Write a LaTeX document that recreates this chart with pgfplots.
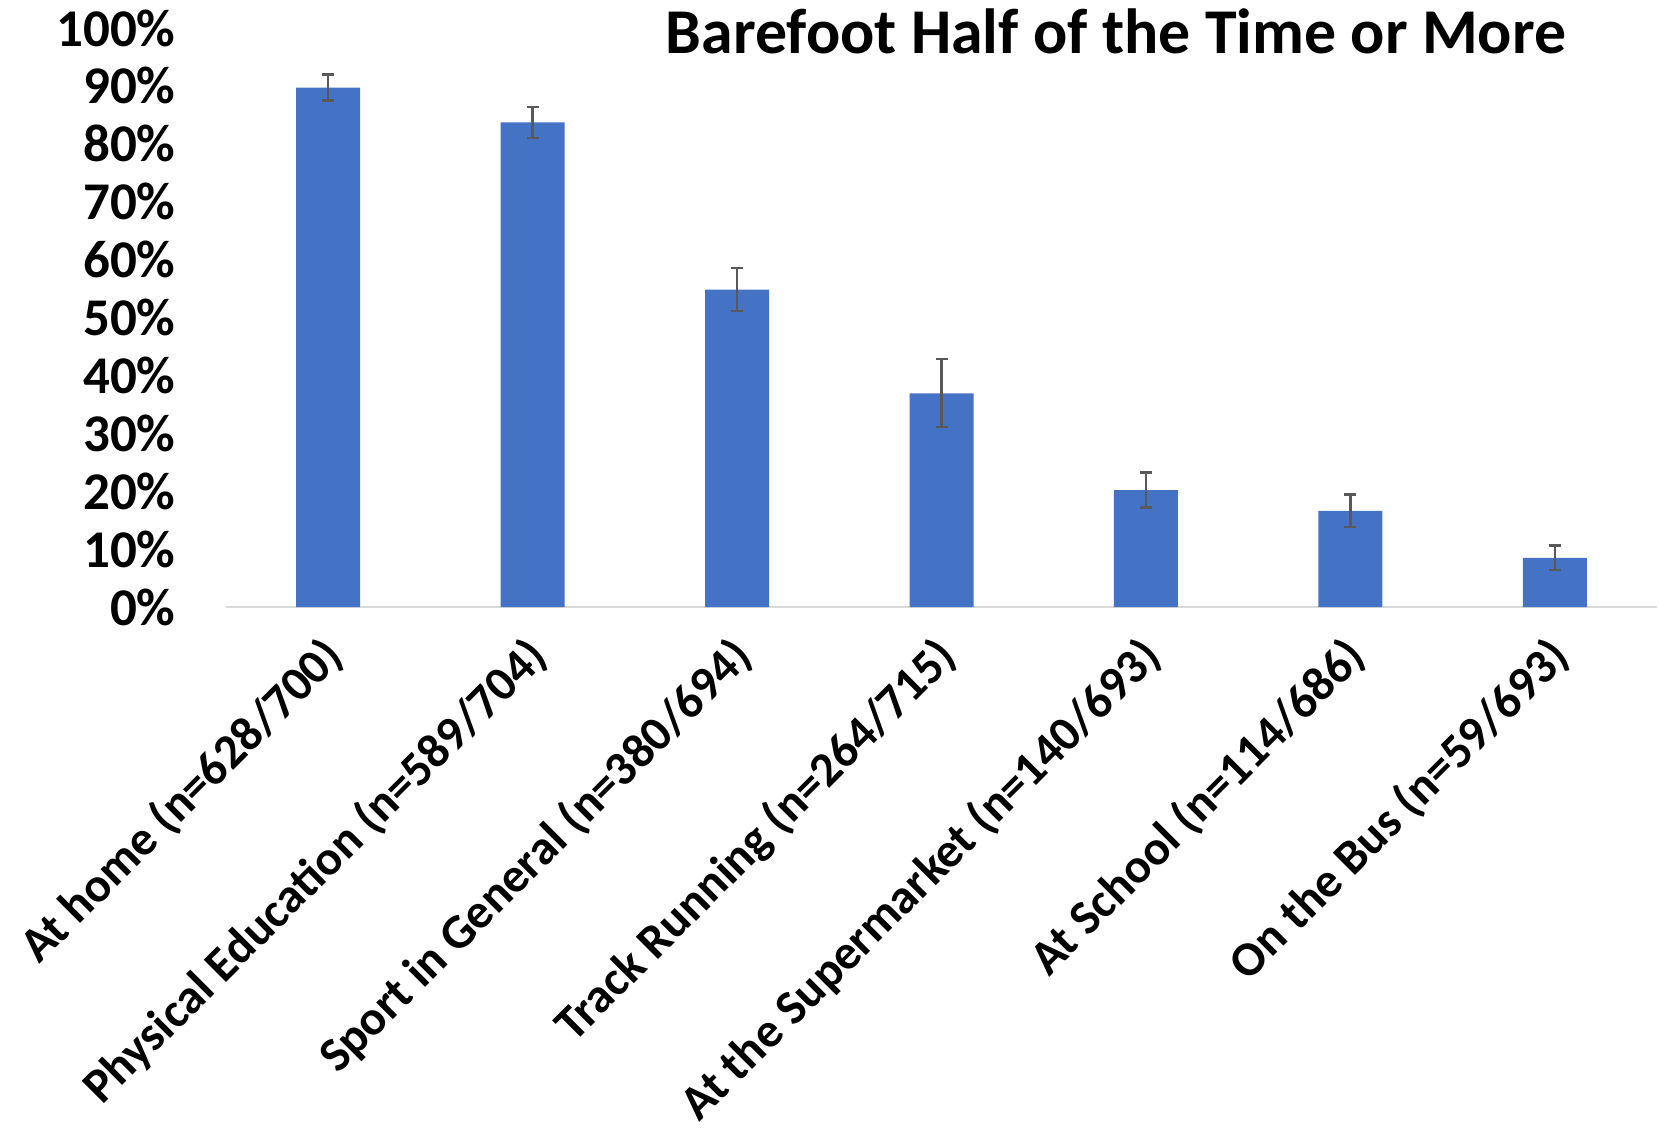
\documentclass[border=0pt]{standalone}
\usepackage{pgfplots}
\pgfplotsset{compat=1.18}
\usepackage{pgfplotstable}
\usepackage{fontspec}
\setmainfont{Carlito}
\definecolor{barblue}{HTML}{4472C4}
\definecolor{errgray}{HTML}{595959}
\definecolor{axgray}{HTML}{D9D9D9}

\pgfplotstableread{
x y ep em
0 89.7 2.3 2.2
1 83.7 2.7 2.7
2 54.8 3.7 3.7
3 36.9 5.9 5.8
4 20.2 3.0 3.0
5 16.6 2.8 2.8
6 8.5 2.1 2.1
}\datatable

\begin{document}
\begin{tikzpicture}
\path[use as bounding box] (0,0) rectangle (830pt,565.5pt);
\begin{axis}[
  at={(113pt,262pt)}, anchor=south west,
  scale only axis, width=715.5pt, height=289.5pt,
  xmin=-0.5, xmax=6.5, ymin=0, ymax=100,
  axis x line*=bottom, axis y line*=left,
  x axis line style={-, draw=axgray, line width=1pt},
  y axis line style={draw=none},
  major tick length=0pt,
  xtick={0,1,2,3,4,5,6},
  xticklabels={At home (n=628/700), Physical Education (n=589/704), Sport in General (n=380/694), Track Running (n=264/715), At the Supermarket (n=140/693), At School (n=114/686), On the Bus (n=59/693)},
  ytick={0,10,20,30,40,50,60,70,80,90,100},
  yticklabels={0\%,10\%,20\%,30\%,40\%,50\%,60\%,70\%,80\%,90\%,100\%},
  yticklabel style={font=\fontsize{26.5}{26.5}\selectfont\bfseries, inner sep=0pt, anchor=east, xshift=-25pt},
  xticklabel style={font=\fontsize{24.3}{24.3}\selectfont\bfseries, inner sep=0pt, xshift=8.5pt, yshift=-26pt, rotate=45, anchor=base east},
  title={\bfseries Barefoot Half of the Time or More},
  title style={font=\fontsize{31.9}{31.9}\selectfont, at={(0.622,0.935)}, anchor=base, inner sep=0pt},
  ybar, bar width=0.313,
  clip=false,
]
\addplot[fill=barblue, draw=none,
  error bars/.cd, y dir=both, y explicit,
  error bar style={errgray, line width=1.2pt},
  error mark options={errgray, rotate=90, mark size=3pt, line width=1.2pt}]
  table[x=x, y=y, y error plus=ep, y error minus=em]{\datatable};
\end{axis}
\end{tikzpicture}
\end{document}
